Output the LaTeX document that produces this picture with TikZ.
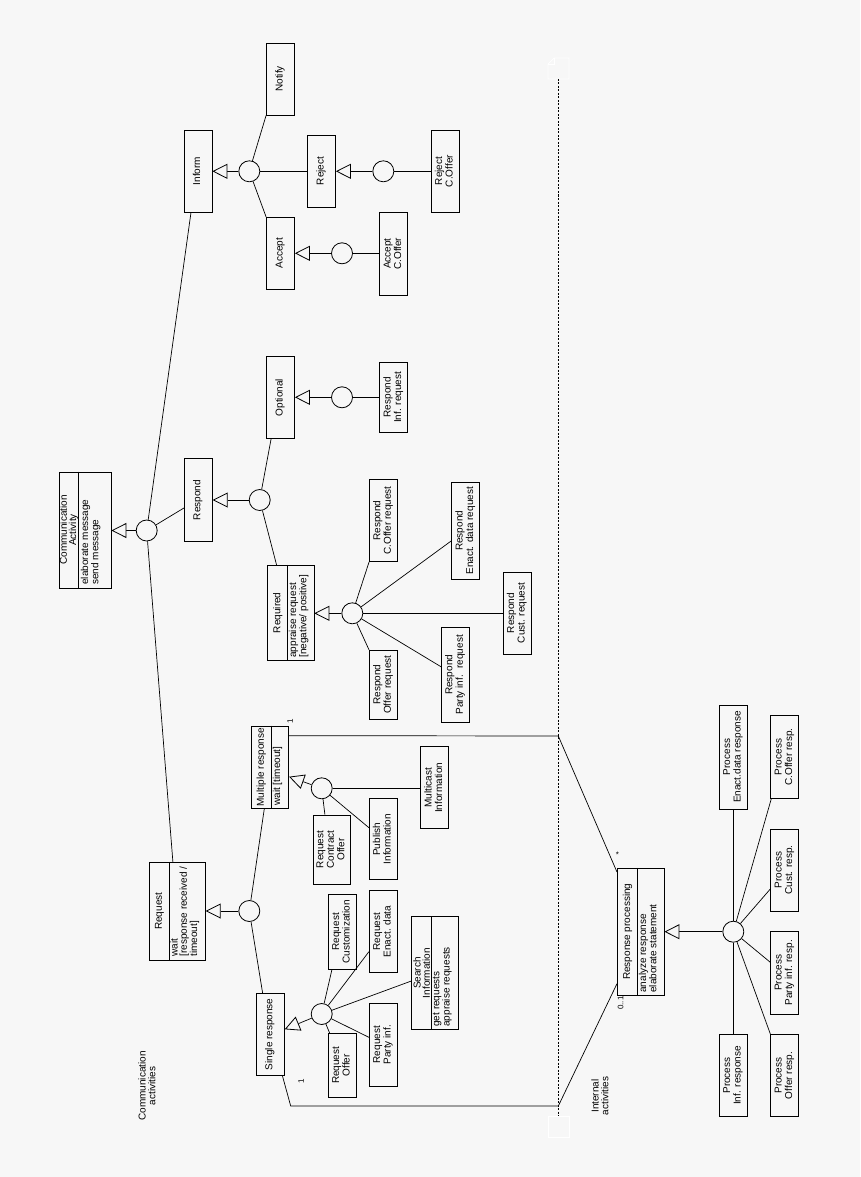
\documentclass[tikz,border=0pt]{standalone}
\usepackage{fontspec}
\setmainfont{Liberation Sans}
\usepackage{graphicx}
\usetikzlibrary{arrows.meta,calc}
\definecolor{bgc}{HTML}{F7F7F7}
\newcommand{\rt}[1]{\rotatebox{90}{\renewcommand{\arraystretch}{1}\begin{tabular}{@{}c@{}}#1\end{tabular}}}
\begin{document}
\begin{tikzpicture}[x=1pt,y=-1pt,
  font=\fontsize{10}{10.5}\selectfont, line width=0.7pt,
  cls/.style={draw, rectangle, inner sep=0pt, minimum width=28pt, line width=0.8pt},
  hub/.style={draw, circle, inner sep=0pt, minimum size=21pt, fill=bgc, line width=0.8pt},
  gen/.style={-{Triangle[length=15pt,width=15pt,fill=bgc,line width=0.8pt]}},
  cmp/.style={inner sep=0pt, rotate=90, font=\fontsize{10}{9.2}\selectfont},
  lbl/.style={inner sep=0pt, font=\fontsize{8}{9}\selectfont},
  txt/.style={inner sep=0pt, rotate=90, align=center, font=\fontsize{10}{9.7}\selectfont}]
\fill[bgc] (0,0) rectangle (860,1177);
\useasboundingbox (0,0) rectangle (860,1177);

% white note marks at ends of partition line
\draw[white] (548,64) -- (554,58) -- (569,58) -- (569,79) -- (548,79) -- cycle;
\draw[white] (548,64) -- (554,64) -- (554,58);
\draw[white] (548,1116) rectangle (569,1137);

% partition line
\coordinate (dtop) at (558.3,79);
\coordinate (dbot) at (558.3,1116);
\draw[dash pattern=on 2pt off 1.5pt] (dtop) -- (dbot);

% ---------- boxes ----------
\node[cls, minimum width=52pt, minimum height=116pt] (ca) at (85,530) {};
\draw ($(ca.north west)+(20,0)$) -- ($(ca.south west)+(20,0)$);
\node[cmp, align=center] (catitle) at (69,530) {Communication\\Activity};
\node[cmp, align=left, anchor=north west] (caattr) at (80.5,585) {elaborate message\\send message};

\node[cls, minimum height=82pt] (inform) at (198,171) {\rt{Inform}};
\node[cls, minimum height=72pt] (notify) at (280.5,79) {\rt{Notify}};
\node[cls, minimum height=72pt] (reject) at (321.5,171) {\rt{Reject}};
\node[cls, minimum height=82pt] (rejectco) at (445.3,171) {\rt{Reject\\C.Offer}};
\node[cls, minimum height=72pt] (accept) at (280.5,253.3) {\rt{Accept}};
\node[cls, minimum height=83pt] (acceptco) at (393.7,253.7) {\rt{Accept\\C.Offer}};
\node[cls, minimum height=82pt] (optional) at (280.5,397.5) {\rt{Optional}};
\node[cls, minimum height=70pt] (respinf) at (393.7,397.3) {\rt{Respond\\Inf. request}};
\node[cls, minimum height=83pt] (respond) at (198.3,500) {\rt{Respond}};

\node[cls, minimum width=46.3pt, minimum height=95pt] (required) at (290.8,612.8) {};
\draw ($(required.north west)+(20,0)$) -- ($(required.south west)+(20,0)$);
\node[cmp] (reqtitle) at (277.7,612.8) {Required};
\node[cmp, align=left, anchor=north west] (reqattr) at (288.5,658) {appraise request\\{[negative/ positive]}};

\node[cls, minimum height=82pt] (respco) at (383.5,520.5) {\rt{Respond\\C.Offer request}};
\node[cls, minimum height=97pt] (respenact) at (465.8,530.8) {\rt{Respond\\Enact. data request}};
\node[cls, minimum height=82pt] (respcust) at (517.3,613) {\rt{Respond\\Cust. request}};
\node[cls, minimum height=94.5pt] (respparty) at (455.5,674.8) {\rt{Respond\\Party inf.~ request}};
\node[cls, minimum height=69pt] (respoffer) at (383.4,684.7) {\rt{Respond\\Offer request}};

\node[cls, minimum width=55.6pt, minimum height=97.7pt] (request) at (177.5,911.2) {};
\draw ($(request.north west)+(19.6,0)$) -- ($(request.south west)+(19.6,0)$);
\node[cmp] (rqtitle) at (159.5,911.2) {Request};
\node[cmp, align=left, anchor=north west] (rqattr) at (170,957) {wait\\{[response received /}\\timeout]};

\node[cls, minimum width=37.4pt, minimum height=82.3pt] (multi) at (270,767.2) {};
\draw ($(multi.north west)+(20,0)$) -- ($(multi.south west)+(20,0)$);
\node[cmp] (multitle) at (261.3,767.2) {Multiple response};
\node[cmp, align=left, anchor=north west] (multattr) at (272.5,806) {wait [timeout]};

\node[cls, minimum height=82pt] (single) at (270.3,1034.3) {\rt{Single response}};
\node[cls, minimum height=82pt] (multicast) at (434.7,787.8) {\rt{Multicast\\Information}};
\node[cls, minimum width=37pt, minimum height=69pt] (rco) at (331.8,849.5) {\rt{Request\\Contract\\Offer}};
\node[cls, minimum height=81pt] (publish) at (383.3,839.3) {\rt{Publish\\Information}};
\node[cls, minimum height=75pt] (rcust) at (342.3,931.8) {\rt{Request\\Customization}};
\node[cls, minimum height=82pt] (renact) at (383.3,931.7) {\rt{Request\\Enact. data}};

\node[cls, minimum width=46.6pt, minimum height=112.6pt] (search) at (435,973) {};
\draw ($(search.north west)+(20,0)$) -- ($(search.south west)+(20,0)$);
\node[cmp, align=center] (srtitle) at (421.7,973) {Search\\Information};
\node[cmp, align=left, anchor=north west] (srattr) at (432.5,1027) {get requests\\appraise requests};

\node[cls, minimum height=82.7pt] (rparty) at (383.3,1044.7) {\rt{Request\\Party inf.}};
\node[cls, minimum height=64pt] (roffer) at (342.3,1065.3) {\rt{Request\\Offer}};

\node[cls, minimum width=46.7pt, minimum height=126.7pt] (rp) at (640.7,931.7) {};
\draw ($(rp.north west)+(20.4,0)$) -- ($(rp.south west)+(20.4,0)$);
\node[cmp] (rptitle) at (627.5,931.7) {Response processing};
\node[cmp, align=left, anchor=north west] (rpattr) at (638.5,993) {analyze response\\elaborate statement};

\node[cls, minimum height=104pt] (penact) at (733.3,757) {\rt{Process\\Enact.data response}};
\node[cls, minimum height=82.6pt] (pcoffer) at (784.7,757) {\rt{Process\\C.Offer resp.}};
\node[cls, minimum height=82pt] (pcust) at (784.7,870) {\rt{Process\\Cust. resp.}};
\node[cls, minimum height=82.3pt] (pparty) at (784.7,972.8) {\rt{Process\\Party inf. resp.}};
\node[cls, minimum height=82.4pt] (poffer) at (784.7,1075.5) {\rt{Process\\Offer resp.}};
\node[cls, minimum height=82.4pt] (pinf) at (733.3,1075.5) {\rt{Process\\Inf. response}};

% ---------- hubs ----------
\node[hub] (k0) at (146.7,530.5) {};
\node[hub] (kinform) at (249.3,171.3) {};
\node[hub] (kreject) at (383.3,171.3) {};
\node[hub] (kaccept) at (342,253.3) {};
\node[hub] (koptional) at (342,397.3) {};
\node[hub] (krespond) at (259.7,500) {};
\node[hub] (krequired) at (352.3,613.3) {};
\node[hub] (krequest) at (249.3,911) {};
\node[hub] (kmulti) at (321.7,788.3) {};
\node[hub] (ksingle) at (321.7,1014) {};
\node[hub] (krp) at (733.3,931.7) {};

% ---------- generalisations ----------
\draw[gen] (k0) -- (k0 -| ca.east);
\draw[gen] (kinform) -- (kinform -| inform.east);
\draw[gen] (kreject) -- (kreject -| reject.east);
\draw[gen] (kaccept) -- (kaccept -| accept.east);
\draw[gen] (koptional) -- (koptional -| optional.east);
\draw[gen] (krespond) -- (krespond -| respond.east);
\draw[gen] (krequired) -- (krequired -| required.east);
\draw[gen] (krequest) -- (krequest -| request.east);
\draw[gen] (kmulti) -- ($(multi.east)+(0,9.5)$);
\draw[gen] (ksingle) -- ($(single.east)+(0,-5)$);
\draw[gen] (krp) -- (krp -| rp.east);

% ---------- associations ----------
\draw (k0) -- ($(inform.south west)+(7.4,0)$);
\draw (k0) -- ($(respond.west)+(0,8)$);
\draw (k0) -- ($(request.north west)+(23.6,0)$);

\draw (kinform) -- (notify.south west);
\draw (kinform) -- (kinform -| reject.west);
\draw (kinform) -- (accept.north west);
\draw (kreject) -- (kreject -| rejectco.west);
\draw (kaccept) -- (kaccept -| acceptco.west);
\draw (koptional) -- (koptional -| respinf.west);

\draw (krespond) -- ($(optional.south west)+(5,0)$);
\draw (krespond) -- ($(required.north west)+(9.3,0)$);

\draw (krequired) -- (respco.south west);
\draw (krequired) -- ($(respenact.west)+(0,10)$);
\draw (krequired) -- (krequired -| respcust.west);
\draw (krequired) -- ($(respparty.west)+(0,-8)$);
\draw (krequired) -- (respoffer.north west);

\draw (krequest) -- ($(multi.south west)+(13.4,0)$);
\draw (krequest) -- ($(single.north west)+(6.7,0)$);

\draw (kmulti) -- (kmulti -| multicast.west);
\draw (kmulti) -- ($(rco.north west)+(12,0)$);
\draw (kmulti) -- ($(publish.west)+(0,-11.6)$);

\draw (ksingle) -- ($(rcust.south west)+(4,0)$);
\draw (ksingle) -- ($(renact.west)+(0,20)$);
\draw (ksingle) -- ($(search.west)+(0,8)$);
\draw (ksingle) -- ($(rparty.west)+(0,-7.4)$);
\draw (ksingle) -- ($(roffer.north west)+(1.7,0)$);

\draw (krp) -- (penact.south);
\draw (krp) -- ($(pcoffer.south west)+(1,0)$);
\draw (krp) -- ($(pcust.west)+(0,19)$);
\draw (krp) -- ($(pparty.west)+(0,-10.5)$);
\draw (krp) -- (poffer.north west);
\draw (krp) -- (pinf.north);

% ---------- aggregations to response processing ----------
\coordinate (mA) at (558.3,736);
\coordinate (sA) at (558.3,1106);
\coordinate (sB) at (290.7,1106);
\draw ($(multi.north east)+(0,10)$) -- (mA) -- ($(rp.north west)+(0,4)$);
\draw ($(single.south east)+(-2.3,0)$) -- (sB) -- (sA) -- ($(rp.south west)+(0,-11.7)$);

% ---------- multiplicities ----------
\node[lbl, rotate=90] (m1) at (290,721.7) {1};
\node[lbl, rotate=90] (s1) at (301,1081.7) {1};
\node[lbl] (star) at (617.5,855) {*};
\node[lbl, rotate=90] (z1) at (620.5,1003) {0..1};

% ---------- partition labels ----------
\node[txt] (commlbl) at (147,1086) {Communication\\activities};
\node[txt] (intlbl) at (600,1096) {Internal\\activities};
\end{tikzpicture}
\end{document}
